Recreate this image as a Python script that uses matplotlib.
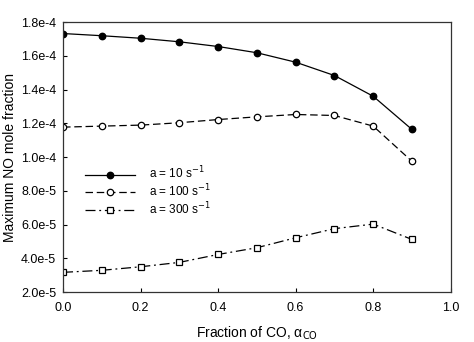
import matplotlib
matplotlib.use("Agg")
import matplotlib.pyplot as plt
import numpy as np

plt.rcParams['font.family'] = ['Liberation Sans', 'DejaVu Sans']

# data
alpha_co = [0.0, 0.1, 0.2, 0.3, 0.4, 0.5, 0.6, 0.7, 0.8, 0.9]
no_a10 = [1.733e-4, 1.720e-4, 1.705e-4, 1.684e-4, 1.656e-4, 1.619e-4, 1.563e-4, 1.484e-4, 1.361e-4, 1.164e-4]
no_a100 = [1.178e-4, 1.184e-4, 1.190e-4, 1.204e-4, 1.223e-4, 1.239e-4, 1.253e-4, 1.247e-4, 1.184e-4, 0.975e-4]
no_a300 = [3.17e-5, 3.29e-5, 3.50e-5, 3.76e-5, 4.23e-5, 4.63e-5, 5.22e-5, 5.76e-5, 6.03e-5, 5.12e-5]

x_ticks = [0.0, 0.2, 0.4, 0.6, 0.8, 1.0]
y_ticks = [2.0e-5, 4.0e-5, 6.0e-5, 8.0e-5, 1.0e-4, 1.2e-4, 1.4e-4, 1.6e-4, 1.8e-4]
y_tick_labels = ['2.0e-5', '4.0e-5', '6.0e-5', '8.0e-5', '1.0e-4', '1.2e-4', '1.4e-4', '1.6e-4', '1.8e-4']

fig = plt.figure(figsize=(4.74, 3.42), dpi=100)
ax = fig.add_axes([0.133, 0.146, 0.818, 0.789])

ax.plot(alpha_co, no_a10, color='black', lw=0.9, ls='-', marker='o',
        ms=4.6, mfc='black', mec='black', label=r'a = 10 s$^{-1}$')
ax.plot(alpha_co, no_a100, color='black', lw=0.9, ls=(0, (6, 3)), marker='o',
        ms=4.6, mfc='white', mec='black', mew=0.9, label=r'a = 100 s$^{-1}$')
ax.plot(alpha_co, no_a300, color='black', lw=0.9, ls=(0, (8, 3, 1.5, 3)), marker='s',
        ms=4.8, mfc='white', mec='black', mew=0.9, label=r'a = 300 s$^{-1}$')

ax.set_xlim(0.0, 1.0)
ax.set_ylim(2.0e-5, 1.8e-4)
ax.set_xticks(x_ticks)
ax.set_xticklabels(['%.1f' % v for v in x_ticks])
ax.set_yticks(y_ticks)
ax.set_yticklabels(y_tick_labels)
ax.tick_params(direction='in', length=3, width=0.8, labelsize=9)
ax.tick_params(axis='x', pad=7)
ax.tick_params(axis='y', pad=5)

for sp in ax.spines.values():
    sp.set_linewidth(0.9)
    sp.set_color('#333333')

ax.set_xlabel('Fraction of CO, α$_{\\mathrm{CO}}$', fontsize=10, labelpad=8)
ax.set_ylabel('Maximum NO mole fraction', fontsize=10, labelpad=3)

ax.legend(loc='upper left', bbox_to_anchor=(0.03, 0.51), frameon=False,
          fontsize=8.5, handlelength=4.2, handletextpad=1.2, labelspacing=0.1)

fig.savefig('out.png', dpi=100)
